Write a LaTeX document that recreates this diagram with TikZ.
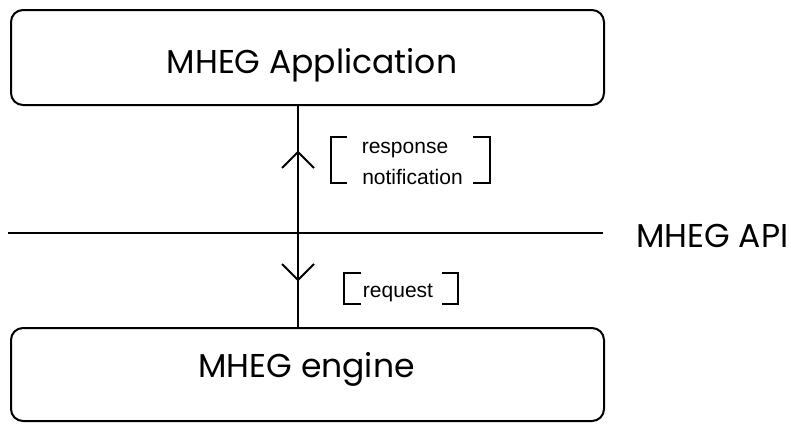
\documentclass[tikz,border=0pt]{standalone}
\usepackage{fontspec}
\setmainfont{Liberation Sans}
\newfontfamily\bigfont{Poppins}
\begin{document}
\begin{tikzpicture}[x=1pt,y=-1pt,
  ln/.style={line width=2pt, line cap=butt},
  box/.style={draw, line width=2pt, rounded corners=12pt, minimum width=593pt, anchor=north west, inner sep=0pt},
  big/.style={font=\bigfont\fontsize{33}{36}\selectfont, inner sep=0pt, anchor=base},
  small/.style={font=\fontsize{21}{24}\selectfont, inner sep=0pt, anchor=base}]
\useasboundingbox (0,0) rectangle (791,423);
\node[box, minimum height=95pt] (app) at (10,9) {};
\node[big] (apptxt) at (312,73) {MHEG Application};
\node[box, minimum height=93pt] (eng) at (10,327) {};
\node[big] (engtxt) at (306.5,377) {MHEG engine};
\draw[ln] (app.south -| 298,0) -- (eng.north -| 298,0);
% API line
\coordinate (apiL) at (8,233);
\coordinate (apiR) at (603,233);
\draw[ln] (apiL) -- (apiR);
\node[big, anchor=base west] (api) at (636,247) {MHEG API};
% arrowheads
\coordinate (upTip) at (298,152);
\draw[ln, line join=miter] (282,168) -- (upTip) -- (314,168);
\coordinate (dnTip) at (298,280);
\draw[ln, line join=miter] (282,264) -- (dnTip) -- (314,264);
% response bracket
\draw[ln] (347,137) -- (331,137) -- (331,183) -- (347,183);
\draw[ln] (473,137) -- (490,137) -- (490,183) -- (473,183);
\node[small] (resp) at (405,153) {response};
\node[small] (notif) at (412.5,184) {notification};
% request bracket
\draw[ln] (361,273) -- (344,273) -- (344,304) -- (361,304);
\draw[ln] (442,273) -- (458,273) -- (458,304) -- (442,304);
\node[small] (req) at (398,297) {request};
\end{tikzpicture}
\end{document}
